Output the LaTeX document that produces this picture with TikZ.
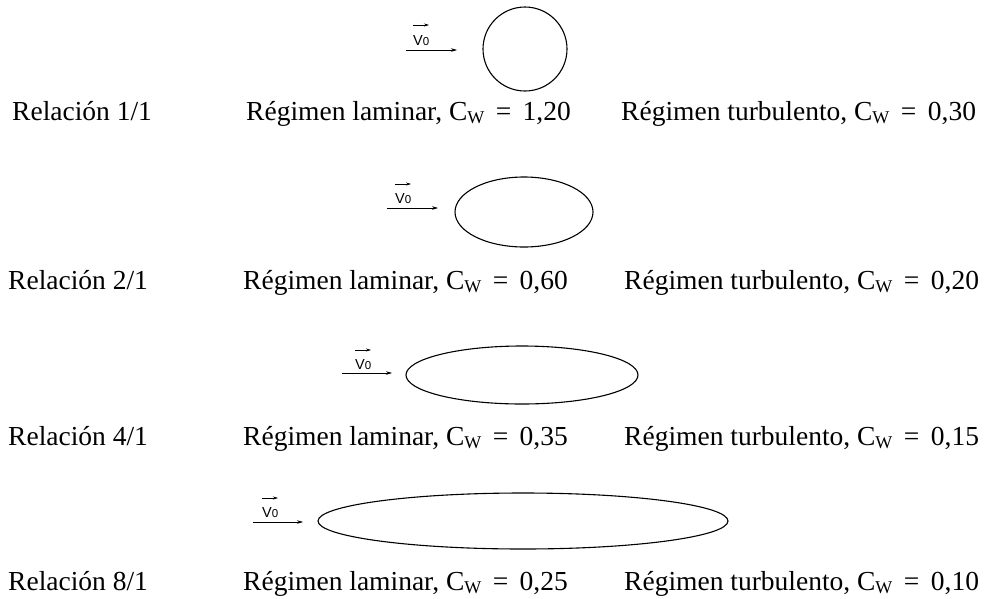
\documentclass[tikz,border=0pt]{standalone}
\usepackage{fontspec}
\setmainfont{Liberation Serif}
\newfontfamily\arialfont{Liberation Sans}
\usetikzlibrary{arrows.meta}
\newcommand{\cwsub}{C\raisebox{-0.25ex}{\fontsize{18}{18}\selectfont W}}
\newcommand{\vlabel}{{\arialfont\fontsize{14.5}{14.5}\selectfont V\fontsize{11.5}{11.5}\selectfont 0}}
\begin{document}
\begin{tikzpicture}[x=1pt,y=-1pt,
  txt/.style={anchor=base west,inner sep=0pt,font=\fontsize{27.5}{32}\selectfont},
  body/.style={draw,line width=1.1pt},
  flow/.style={-{Stealth[length=6pt,width=3.5pt]},line width=0.6pt},
  vec/.style={-{Stealth[length=5pt,width=3pt]},line width=0.6pt},
  vlab/.style={anchor=base west,inner sep=0pt}]
\useasboundingbox (0,0) rectangle (986,598);
% row 1
\draw[body] (525,49) circle[radius=42];
\coordinate (a1s) at (406,50); \coordinate (a1e) at (457,50);
\draw[flow] (a1s) -- (a1e);
\node[vlab] (v1) at (413,45) {\vlabel};
\coordinate (b1s) at (413,25); \coordinate (b1e) at (429,25);
\draw[vec] (b1s) -- (b1e);
\node[txt] (r1) at (12,120) {Relación 1/1};
\node[txt] (l1) at (246,120) {Régimen laminar, \cwsub{}\, =\, 1,20};
\node[txt] (t1) at (621,120) {Régimen turbulento, \cwsub{}\, =\, 0,30};
% row 2
\draw[body] (524,212) ellipse[x radius=69,y radius=35];
\coordinate (a2s) at (387,208); \coordinate (a2e) at (438,208);
\draw[flow] (a2s) -- (a2e);
\node[vlab] (v2) at (395,203) {\vlabel};
\coordinate (b2s) at (395,184); \coordinate (b2e) at (411,184);
\draw[vec] (b2s) -- (b2e);
\node[txt] (r2) at (8,289) {Relación 2/1};
\node[txt] (l2) at (243,289) {Régimen laminar, \cwsub{}\, =\, 0,60};
\node[txt] (t2) at (624,289) {Régimen turbulento, \cwsub{}\, =\, 0,20};
% row 3
\draw[body] (522,375) ellipse[x radius=116,y radius=29];
\coordinate (a3s) at (342,373); \coordinate (a3e) at (392,373);
\draw[flow] (a3s) -- (a3e);
\node[vlab] (v3) at (355,369) {\vlabel};
\coordinate (b3s) at (355,350); \coordinate (b3e) at (371,350);
\draw[vec] (b3s) -- (b3e);
\node[txt] (r3) at (8,445) {Relación 4/1};
\node[txt] (l3) at (243,445) {Régimen laminar, \cwsub{}\, =\, 0,35};
\node[txt] (t3) at (624,445) {Régimen turbulento, \cwsub{}\, =\, 0,15};
% row 4
\draw[body] (523,521) ellipse[x radius=205,y radius=28];
\coordinate (a4s) at (253,522); \coordinate (a4e) at (303,522);
\draw[flow] (a4s) -- (a4e);
\node[vlab] (v4) at (262,517) {\vlabel};
\coordinate (b4s) at (262,498); \coordinate (b4e) at (278,498);
\draw[vec] (b4s) -- (b4e);
\node[txt] (r4) at (8,590) {Relación 8/1};
\node[txt] (l4) at (243,590) {Régimen laminar, \cwsub{}\, =\, 0,25};
\node[txt] (t4) at (624,590) {Régimen turbulento, \cwsub{}\, =\, 0,10};
\end{tikzpicture}
\end{document}
